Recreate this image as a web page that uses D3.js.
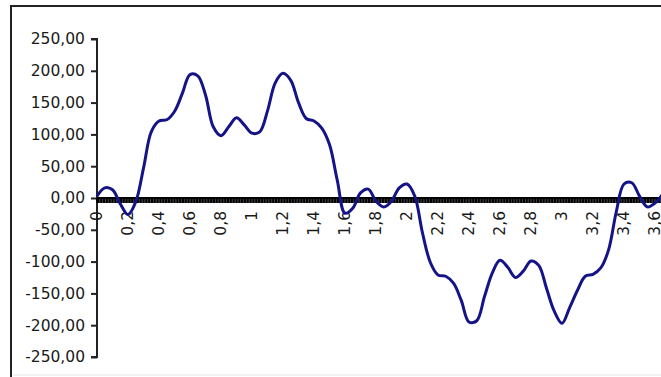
<!DOCTYPE html>
<html>
<head>
    <meta charset="UTF-8">
    <title>Wave</title>
    <style>
        body { margin: 0; background: #fff; }
        text { font-family: 'DejaVu Sans', sans-serif; fill: #1a1a1a; }
    </style>
</head>
<body>
    <div id="app"></div>

    <script src="https://d3js.org/d3.v7.min.js"></script>
    <script>
        // categories (x) and series values
        let xValues = [
            0.00, 0.05, 0.10, 0.15, 0.20, 0.25, 0.30, 0.35, 0.40, 0.45,
            0.50, 0.55, 0.60, 0.65, 0.70, 0.75, 0.80, 0.85, 0.90, 0.95,
            1.00, 1.05, 1.10, 1.15, 1.20, 1.25, 1.30, 1.35, 1.40, 1.45,
            1.50, 1.55, 1.60, 1.65, 1.70, 1.75, 1.80, 1.85, 1.90, 1.95,
            2.00, 2.05, 2.10, 2.15, 2.20, 2.25, 2.30, 2.35, 2.40, 2.45,
            2.50, 2.55, 2.60, 2.65, 2.70, 2.75, 2.80, 2.85, 2.90, 2.95,
            3.00, 3.05, 3.10, 3.15, 3.20, 3.25, 3.30, 3.35, 3.40, 3.45,
            3.50, 3.55, 3.60, 3.65
        ]
        let yValues = [
            3, 16, 13, -9, -26, -6, 47, 104, 121, 123,
            136, 164, 194, 192, 162, 112, 98, 112, 126, 115,
            102, 104, 137, 181, 196, 185, 150, 125, 121, 110,
            84, 28, -24, -16, 8, 14, -5, -14, -5, 16,
            22, 3, -55, -101, -121, -123, -134, -161, -195, -193,
            -155, -118, -98, -109, -125, -115, -99, -106, -142, -178,
            -197, -172, -145, -123, -120, -110, -82, -22, 22, 24,
            3, -14, -8, 6
        ]
        let yTicks = [250, 200, 150, 100, 50, 0, -50, -100, -150, -200, -250]
        let yTickLabels = ['250,00', '200,00', '150,00', '100,00', '50,00', '0,00',
            '-50,00', '-100,00', '-150,00', '-200,00', '-250,00']
        let xTicks = [0, 0.2, 0.4, 0.6, 0.8, 1, 1.2, 1.4, 1.6, 1.8, 2, 2.2, 2.4, 2.6, 2.8, 3, 3.2, 3.4, 3.6]
        let xTickLabels = ['0', '0,2', '0,4', '0,6', '0,8', '1', '1,2', '1,4', '1,6', '1,8',
            '2', '2,2', '2,4', '2,6', '2,8', '3', '3,2', '3,4', '3,6']

        let W = 661
        let H = 377

        let svg = d3.select('#app').append('svg')
            .attr('width', W)
            .attr('height', H)

        // chart area frame (runs off the right and bottom edges)
        svg.append('path')
            .attr('d', 'M11,' + (H + 5) + ' V6 H' + (W + 5))
            .attr('fill', 'none')
            .attr('stroke', '#222')
            .attr('stroke-width', 2)
        svg.append('line')
            .attr('x1', 13).attr('x2', W)
            .attr('y1', 375).attr('y2', 375)
            .attr('stroke', '#e4e4e4')

        let x = d3.scaleLinear().domain([0, 3.6]).range([97, 655])
        let y = d3.scaleLinear().domain([-250, 250]).range([357, 39])

        // y axis
        let yAxis = svg.append('g')
            .attr('transform', 'translate(' + x(0) + ',0)')
            .call(d3.axisLeft(y)
                .tickValues(yTicks)
                .tickSize(6)
                .tickFormat((d, i) => yTickLabels[i]))
        yAxis.select('.domain').attr('stroke', '#222').attr('stroke-width', 2)
            .attr('d', 'M-6,' + y(250) + 'H0V' + y(-250) + 'H-6')
        yAxis.selectAll('.tick line').attr('stroke', '#222').attr('stroke-width', 2)
        yAxis.selectAll('.tick text')
            .attr('x', -12)
            .style('font-size', '15.5px')
            .style('font-family', "'DejaVu Sans', sans-serif")
            .attr('fill', '#1a1a1a')

        // x axis: dense category tick marks along zero
        let catTicks = d3.range(0, 3.75, 0.01)
        let xAxis = svg.append('g')
            .attr('transform', 'translate(0,' + y(0) + ')')
        xAxis.append('line')
            .attr('x1', x(0)).attr('x2', W)
            .attr('y1', 0).attr('y2', 0)
            .attr('stroke', '#000').attr('stroke-width', 2)
        xAxis.selectAll('line.cat')
            .data(catTicks).enter()
            .append('line')
            .attr('class', 'cat')
            .attr('x1', d => x(d)).attr('x2', d => x(d))
            .attr('y1', 0).attr('y2', 5)
            .attr('stroke', '#000')
            .attr('stroke-width', 1.6)

        xAxis.selectAll('text')
            .data(xTicks).enter()
            .append('text')
            .attr('transform', d => 'translate(' + x(d) + ',13) rotate(-90)')
            .attr('text-anchor', 'end')
            .attr('dy', '0.35em')
            .style('font-size', '15.5px')
            .text((d, i) => xTickLabels[i])

        // series line
        let line = d3.line()
            .x((d, i) => x(xValues[i]))
            .y(d => y(d))
            .curve(d3.curveCatmullRom)

        svg.append('path')
            .datum(yValues)
            .attr('d', line)
            .attr('fill', 'none')
            .attr('stroke', '#141488')
            .attr('stroke-width', 3)
            .attr('stroke-linejoin', 'round')
    </script>
</body>
</html>
